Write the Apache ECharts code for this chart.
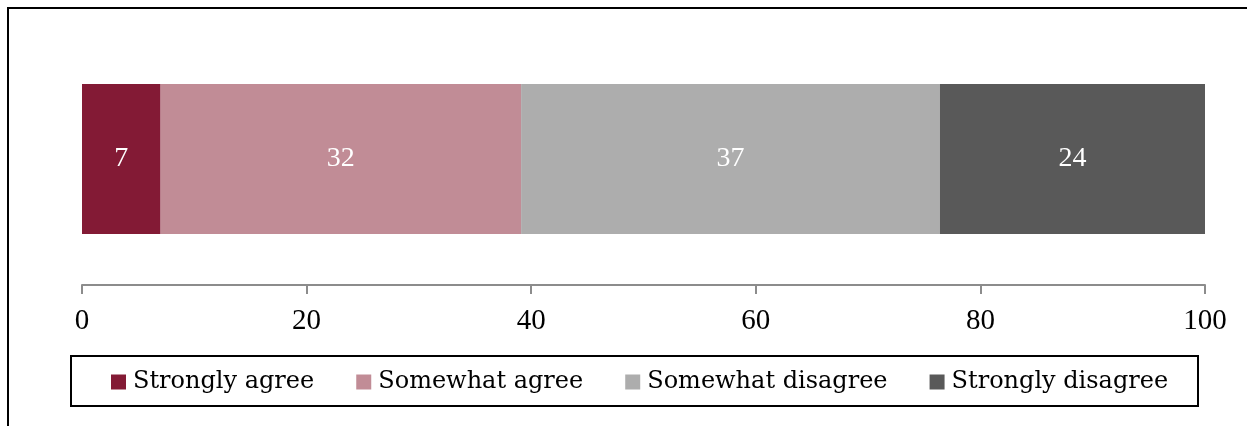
<!DOCTYPE html>
<html>
<head>
<meta charset="utf-8">
<script src="https://cdn.jsdelivr.net/npm/echarts@6/dist/echarts.min.js"></script>
<style>
html,body{margin:0;padding:0;background:#fff;}
#chart{width:1247px;height:426px;}
</style>
</head>
<body>
<div id="chart"></div>
<script>
var categories = ['Q'];
var seriesNames = ['Strongly agree', 'Somewhat agree', 'Somewhat disagree', 'Strongly disagree'];
var stronglyAgree = [7.0];
var somewhatAgree = [32.1];
var somewhatDisagree = [37.3];
var stronglyDisagree = [23.6];
var colors = ['#831A35', '#C18C96', '#ADADAD', '#595959'];
var xTicks = [0, 20, 40, 60, 80, 100];

var values = [stronglyAgree, somewhatAgree, somewhatDisagree, stronglyDisagree];

var chart = echarts.init(document.getElementById('chart'));
var series = seriesNames.map(function (name, i) {
  return {
    name: name,
    type: 'bar',
    stack: 'total',
    barWidth: '100%',
    data: values[i],
    itemStyle: { color: colors[i] },
    label: {
      show: true,
      position: 'inside',
      color: '#ffffff',
      fontFamily: 'Liberation Serif',
      fontSize: 28,
      formatter: function (p) { return Math.round(p.value); }
    }
  };
});

chart.setOption({
  animation: false,
  backgroundColor: '#ffffff',
  grid: { left: 82, right: 42, top: 84, height: 150 },
  xAxis: {
    type: 'value',
    min: xTicks[0],
    max: xTicks[xTicks.length - 1],
    interval: 20,
    offset: 51,
    axisLine: { show: true, lineStyle: { color: '#8C8C8C', width: 2 } },
    axisTick: { show: true, length: 9, lineStyle: { color: '#8C8C8C', width: 2 } },
    splitLine: { show: false },
    axisLabel: {
      margin: 22,
      color: '#000000',
      fontFamily: 'Liberation Serif',
      fontSize: 29
    }
  },
  yAxis: {
    type: 'category',
    data: categories,
    show: false
  },
  legend: {
    data: seriesNames,
    left: 111,
    top: 369,
    padding: 0,
    itemWidth: 15,
    itemHeight: 15,
    itemGap: 42,
    icon: 'rect',
    textStyle: { fontFamily: 'DejaVu Serif', fontSize: 24, color: '#000000', lineHeight: 26, padding: [0, 0, 0, 2] }
  },
  graphic: [
    { type: 'line', shape: { x1: 8, y1: 7, x2: 8, y2: 426 }, style: { stroke: '#000', lineWidth: 2 } },
    { type: 'line', shape: { x1: 7, y1: 8, x2: 1247, y2: 8 }, style: { stroke: '#000', lineWidth: 2 } },
    { type: 'rect', shape: { x: 71, y: 356, width: 1127, height: 50 }, style: { fill: 'none', stroke: '#000', lineWidth: 2 } }
  ],
  series: series
});
</script>
</body>
</html>
